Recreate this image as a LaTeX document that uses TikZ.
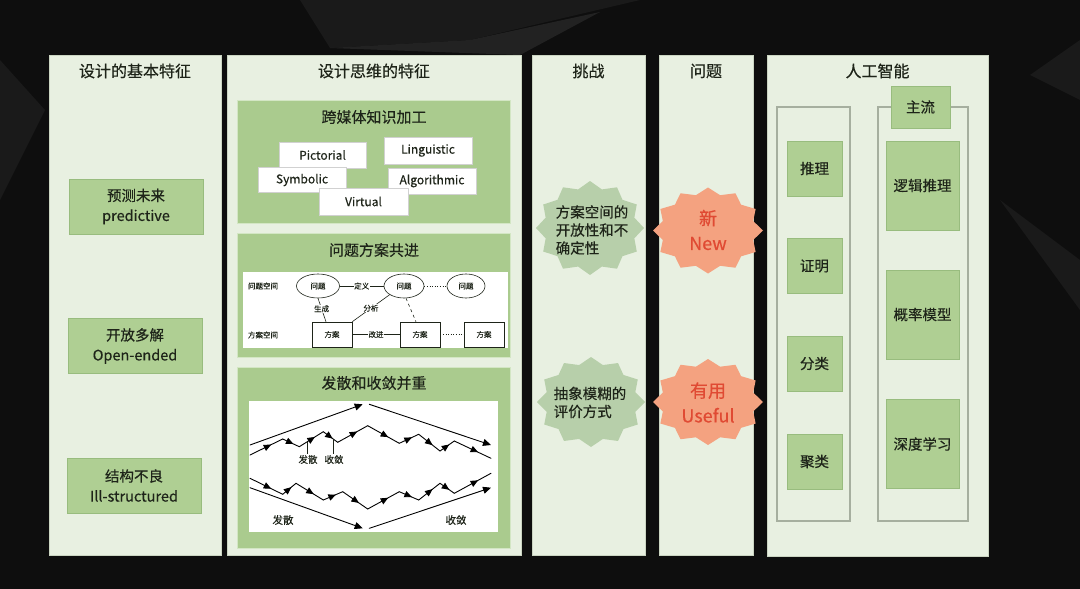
\documentclass[tikz,border=0pt]{standalone}
\usepackage{fontspec}
\setmainfont{Noto Sans CJK SC}[FakeBold=0.35]
\usetikzlibrary{decorations.markings,arrows.meta,shapes.geometric}
\definecolor{bgdark}{HTML}{0E0E0E}
\definecolor{bgpoly}{HTML}{1A1A1A}
\definecolor{bgpolyb}{HTML}{222222}
\definecolor{panelbg}{HTML}{E8F0E1}
\definecolor{panelln}{HTML}{CBD5C2}
\definecolor{boxfill}{HTML}{AFCF93}
\definecolor{boxline}{HTML}{98BC7E}
\definecolor{subfill}{HTML}{AACB8E}
\definecolor{subline}{HTML}{D3E6C4}
\definecolor{starg}{HTML}{B7CFAA}
\definecolor{staro}{HTML}{F4A280}
\definecolor{redtxt}{HTML}{E04A33}
\definecolor{txt}{HTML}{1E2419}
\definecolor{outl}{HTML}{A6AF9F}
\newcommand{\mkburst}[5]{\fill[#5] plot[domain=0:23,samples=24] ({#1+#3*(1-0.15*mod(round(\x),2))*cos(\x*15)},{#2+#4*(1-0.15*mod(round(\x),2))*sin(\x*15)}) -- cycle;}
\begin{document}
\begin{tikzpicture}[x=1pt,y=-1pt,
  sz/.style 2 args={minimum width=#1,minimum height=#2},
  panel/.style={draw=panelln,fill=panelbg,line width=0.8pt,inner sep=0pt},
  ttl/.style={text=txt,font=\fontsize{16}{19}\selectfont},
  subttl/.style={text=txt,font=\fontsize{15}{18}\selectfont},
  gbox/.style={draw=boxline,fill=boxfill,line width=0.8pt,inner sep=0pt,text=txt,align=center,font=\fontsize{14.5}{20}\selectfont},
  subbox/.style={draw=subline,fill=subfill,line width=1pt,inner sep=0pt},
  wbox/.style={draw=black!18,fill=white,line width=0.5pt,inner sep=0pt,text=txt,font=\fontsize{12}{14}\selectfont},
  warea/.style={fill=white,inner sep=0pt},
  outline/.style={draw=outl,line width=1.2pt,inner sep=0pt},
  tiny/.style={text=txt,font=\fontsize{7.5}{9}\selectfont,inner sep=0.5pt},
  dnode/.style={draw=txt,line width=0.6pt,fill=white,inner sep=0pt,text=txt,font=\fontsize{7.5}{9}\selectfont},
  conn/.style={draw=txt,line width=0.6pt},
  zz/.style={draw=black,line width=0.9pt,line cap=round},
  midarrow/.style={postaction={decorate},decoration={markings,mark=at position 0.65 with {\arrow{Triangle[length=7.5pt,width=6.5pt]}}}},
  endarrow/.style={-{Triangle[length=8pt,width=7pt]}},
  zlab/.style={text=txt,font=\fontsize{9.5}{11}\selectfont,inner sep=1pt},
  startxt/.style={text=txt,align=left,font=\fontsize{14.5}{18}\selectfont},
  redt/.style={text=redtxt,align=center,font=\fontsize{18}{25}\selectfont},
]
\useasboundingbox (0,0) rectangle (1080,589);
% background
\fill[bgdark] (0,0) rectangle (1080,589);
\fill[bgpoly] (300,0) -- (640,0) -- (470,40) -- (330,48) -- cycle;
\fill[bgpolyb] (330,48) -- (470,40) -- (600,12) -- (520,55) -- cycle;
\fill[bgpoly] (0,60) -- (45,110) -- (0,200) -- cycle;
\fill[bgpoly] (1080,40) -- (1030,75) -- (1080,100) -- cycle;
\fill[bgpoly] (1000,200) -- (1080,260) -- (1080,310) -- cycle;

% panels
\node[panel,sz={172}{500}] (p1) at (135,305) {};
\node[panel,sz={294}{500}] (p2) at (374,305) {};
\node[panel,sz={113}{500}] (p3) at (588.5,305) {};
\node[panel,sz={94}{500}] (p4) at (706,305) {};
\node[panel,sz={221}{501}] (p5) at (877.5,305.5) {};

\node[ttl] (t1) at (135,71) {设计的基本特征};
\node[ttl] (t2) at (374,71) {设计思维的特征};
\node[ttl] (t3) at (588.5,71) {挑战};
\node[ttl] (t4) at (706,71) {问题};
\node[ttl] (t5) at (877.5,71) {人工智能};

% panel 1
\node[gbox,sz={134}{55}] (b1) at (136,206.5) {预测未来\\predictive};
\node[gbox,sz={134}{55}] (b2) at (135,346) {开放多解\\Open-ended};
\node[gbox,sz={134}{55}] (b3) at (134,485.5) {结构不良\\Ill-structured};

% panel 2 sub boxes
\node[subbox,sz={273}{123}] (s1) at (374,161.5) {};
\node[subbox,sz={273}{124}] (s2) at (374,295) {};
\node[subbox,sz={273}{181}] (s3) at (374,457.5) {};
\node[subttl] (st1) at (374,117) {跨媒体知识加工};
\node[subttl] (st2) at (374,250) {问题方案共进};
\node[subttl] (st3) at (374,383) {发散和收敛并重};

\node[wbox,sz={87}{26}] (pic) at (322.5,155) {Pictorial};
\node[wbox,sz={88}{27}] (lin) at (428,150.5) {Linguistic};
\node[wbox,sz={88}{25}] (sym) at (302,180) {Symbolic};
\node[wbox,sz={88}{26}] (alg) at (432,181) {Algorithmic};
\node[wbox,sz={89}{27}] (vir) at (363.5,201.5) {Virtual};

% problem / solution co-evolution
\node[warea,sz={265}{76}] (w2) at (375.5,310) {};
\node[tiny] (lp) at (263,286) {问题空间};
\node[tiny] (ls) at (263,335) {方案空间};
\node[dnode,ellipse,sz={43}{24}] (e1) at (318,286) {问题};
\node[dnode,ellipse,sz={40}{24}] (e2) at (404,286) {问题};
\node[dnode,ellipse,sz={38}{24}] (e3) at (466,286) {问题};
\node[dnode,sz={40}{25}] (r1) at (332,334.5) {方案};
\node[dnode,sz={40}{25}] (r2) at (420,334.5) {方案};
\node[dnode,sz={40}{25}] (r3) at (484,334.5) {方案};
\draw[conn] (e1) -- node[tiny,fill=white] (ldef) {定义} (e2);
\draw[conn,dotted] (e2) -- (e3);
\draw[conn] (r1) -- node[tiny,fill=white] (limp) {改进} (r2);
\draw[conn,dotted] (r2) -- (r3);
\draw[conn] (e1.south) -- node[tiny,fill=white,pos=0.45] (lgen) {生成} ([xshift=-6pt]r1.north);
\draw[conn] (e2.south west) -- node[tiny,fill=white,pos=0.5] (lana) {分析} (r1.north east);
\draw[conn,dashed] ([xshift=2pt]e2.south) -- ([xshift=-4pt]r2.north);

% divergence / convergence
\node[warea,sz={249}{131}] (w3) at (373.5,466.5) {};
\draw[zz,endarrow] (250,445) -- (362.7,404.3);
\draw[zz,endarrow] (369.3,404.3) -- (491,445);
\draw[zz,endarrow] (250,487.7) -- (362.7,528.3);
\draw[zz,endarrow] (369.3,528.3) -- (491,487.7);
\foreach \ax/\ay/\bx/\by in {250/455/282.7/439, 282.7/439/299.3/446.7, 299.3/446.7/323.3/431.7, 323.3/431.7/337.7/442.3, 337.7/442.3/367.7/425.7, 367.7/425.7/399.3/443.3, 399.3/443.3/418.7/434.3, 418.7/434.3/440/451, 440/451/454.3/441, 454.3/441/491/458.3,
 250/478.3/282.7/494.3, 282.7/494.3/296/483.3, 296/483.3/323.3/500, 323.3/500/342.7/491.7, 342.7/491.7/367.7/509, 367.7/509/399.3/491.7, 399.3/491.7/418.7/500, 418.7/500/440/483.3, 440/483.3/454.3/493.3, 454.3/493.3/491/473.3}
  \draw[zz,midarrow] (\ax,\ay) -- (\bx,\by);
\node[zlab] (zd) at (308,459.5) {发散};
\node[zlab] (zc) at (334,459.5) {收敛};
\coordinate (zdp) at (307,442);
\coordinate (zcp) at (333,439);
\draw[conn] ([xshift=-1pt]zd.north) -- (zdp);
\draw[conn] ([xshift=-1pt]zc.north) -- (zcp);
\node[zlab,font=\fontsize{10.5}{12}\selectfont] (zd2) at (283,520) {发散};
\node[zlab,font=\fontsize{10.5}{12}\selectfont] (zc2) at (456,520) {收敛};

% challenge / problem bursts
\mkburst{590}{228}{54}{47}{starg}
\mkburst{591}{402}{54}{45}{starg}
\mkburst{708}{230.5}{55}{43}{staro}
\mkburst{708}{402}{55}{43}{staro}
\node[startxt] (c1) at (592,230) {方案空间的\\开放性和不\\确定性};
\node[startxt] (c2) at (590,402.5) {抽象模糊的\\评价方式};
\node[redt] (q1) at (708,230) {新\\New};
\node[redt] (q2) at (708,402.5) {有用\\Useful};

% AI panel
\node[outline,sz={73}{414}] (o1) at (813.5,314) {};
\node[outline,sz={90}{414}] (o2) at (923,314) {};
\node[gbox,sz={59}{42}] (main) at (920.5,107) {主流};
\node[gbox,sz={55}{55}] (a1) at (814.5,168.5) {推理};
\node[gbox,sz={55}{55}] (a2) at (814.5,266) {证明};
\node[gbox,sz={55}{55}] (a3) at (814.5,363.5) {分类};
\node[gbox,sz={55}{55}] (a4) at (814.5,461.5) {聚类};
\node[gbox,sz={73}{89}] (m1) at (922.5,185.5) {逻辑推理};
\node[gbox,sz={73}{89}] (m2) at (922.5,314.5) {概率模型};
\node[gbox,sz={73}{89}] (m3) at (922.5,444) {深度学习};
\end{tikzpicture}
\end{document}
